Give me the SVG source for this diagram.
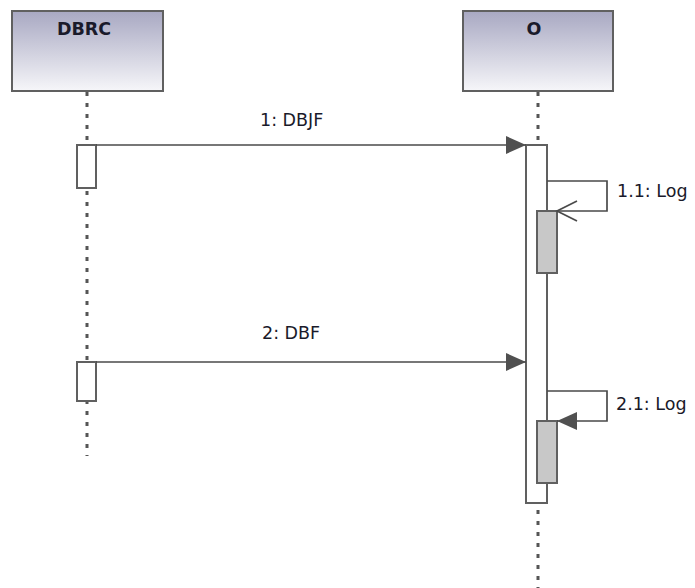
<svg xmlns="http://www.w3.org/2000/svg" width="695" height="588" viewBox="0 0 695 588">
<defs>
<linearGradient id="hdr" x1="0" y1="0" x2="0" y2="1">
<stop offset="0" stop-color="#a8a8c2"/>
<stop offset="1" stop-color="#f6f6f9"/>
</linearGradient>
<marker id="filled" viewBox="0 0 20 18" refX="20" refY="9" markerWidth="20" markerHeight="18" markerUnits="userSpaceOnUse" orient="auto">
<path d="M0,0 L20,9 L0,18 Z" fill="#505050"/>
</marker>
</defs>
<style>
.box{fill:url(#hdr);stroke:#606060;stroke-width:2}
.title{font-family:"DejaVu Sans",sans-serif;font-weight:bold;font-size:17.5px;fill:#1a1a2a}
.life{stroke:#555;stroke-width:3;stroke-dasharray:4 7;fill:none}
.act{fill:#fff;stroke:#606060;stroke-width:2}
.nest{fill:#c8c8c8;stroke:#606060;stroke-width:2}
.msg{stroke:#4a4a4a;stroke-width:1.7;fill:none}
.lbl{font-family:"DejaVu Sans",sans-serif;font-size:17.5px;fill:#1a1a2a}
</style>
<rect width="695" height="588" fill="#fff"/>
<g id="lifelines">
<line class="life" x1="87" y1="92" x2="87" y2="456"/>
<line class="life" x1="538" y1="92" x2="538" y2="588"/>
</g>
<g id="DBRC">
<rect class="box" x="12" y="11" width="151" height="80"/>
<text class="title" x="84" y="35" text-anchor="middle">DBRC</text>
</g>
<g id="O">
<rect class="box" x="463" y="11" width="150" height="80"/>
<text class="title" x="534" y="35" text-anchor="middle">O</text>
</g>
<g id="activations">
<rect class="act" x="77" y="145" width="19" height="43"/>
<rect class="act" x="77" y="362" width="19" height="39"/>
<rect class="act" x="526" y="145" width="21" height="358"/>
<rect class="nest" x="537" y="211" width="20" height="62"/>
<rect class="nest" x="537" y="421" width="20" height="62"/>
</g>
<g id="connectors">
<line class="msg" x1="96" y1="145" x2="526" y2="145" marker-end="url(#filled)"/>
<path class="msg" d="M547,181 H607 V211 H557"/>
<path class="msg" d="M577,201 L557,211 L577,221"/>
<line class="msg" x1="96" y1="362" x2="526" y2="362" marker-end="url(#filled)"/>
<path class="msg" d="M547,391 H607 V421 H557" marker-end="url(#filled)"/>
</g>
<g id="labels">
<text class="lbl" x="260" y="126">1: DBJF</text>
<text class="lbl" x="617" y="197">1.1: Log</text>
<text class="lbl" x="262" y="339">2: DBF</text>
<text class="lbl" x="616" y="410">2.1: Log</text>
</g>
</svg>
